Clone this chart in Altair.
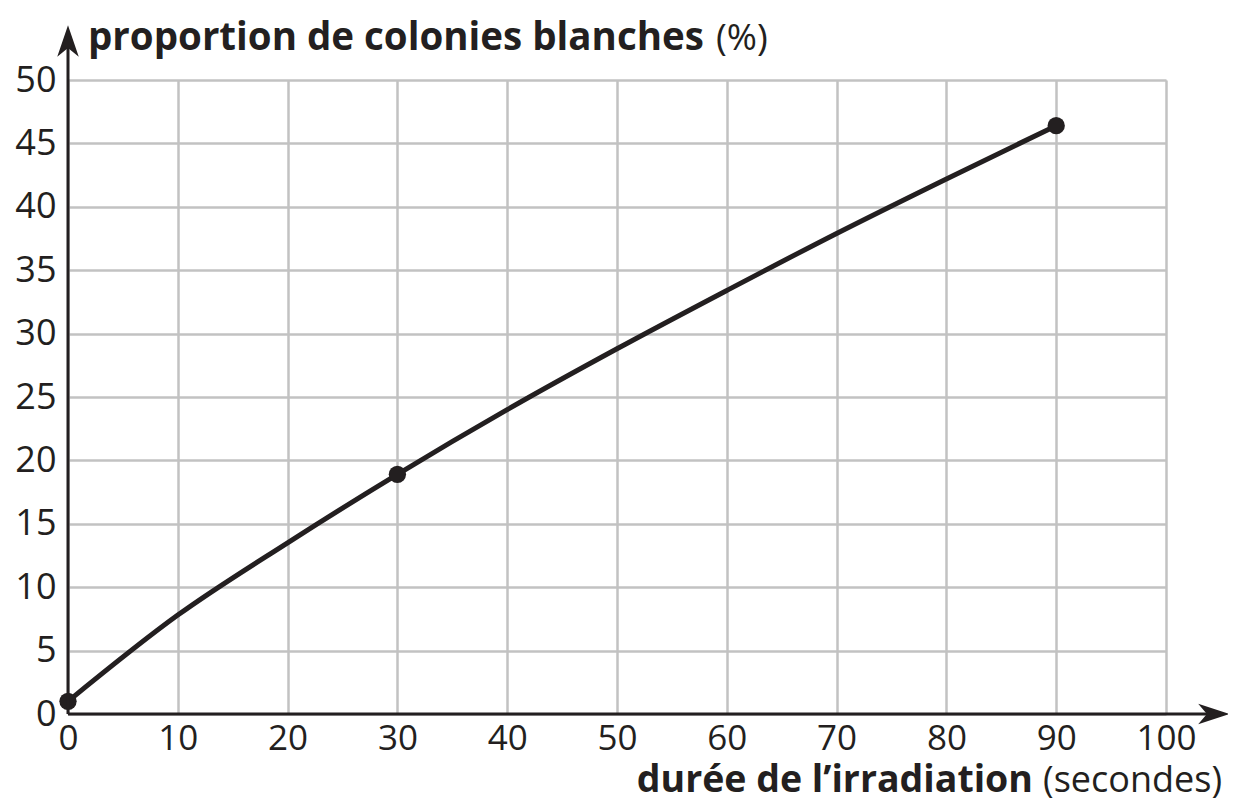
import altair as alt
import pandas as pd

# data
duree = [0, 10, 20, 30, 40, 50, 60, 70, 80, 90]
proportion = [1.0, 7.8, 13.5, 18.9, 24.0, 28.8, 33.4, 37.9, 42.2, 46.4]
mesure_duree = [0, 30, 90]
mesure_prop = [1.0, 18.9, 46.4]
x_ticks = [0, 10, 20, 30, 40, 50, 60, 70, 80, 90, 100]
y_ticks = [0, 5, 10, 15, 20, 25, 30, 35, 40, 45, 50]

INK = "#231f20"
FONT = "Open Sans"
W, H = 1098, 634

curve = pd.DataFrame({"x": duree, "y": proportion})
pts = pd.DataFrame({"x": mesure_duree, "y": mesure_prop})

xs = alt.Scale(domain=[0, 100], nice=False, zero=False)
ys = alt.Scale(domain=[0, 50], nice=False, zero=False)

xaxis = alt.Axis(values=x_ticks, grid=True, gridColor="#c2c2c2", gridWidth=2.5,
                 domain=False, ticks=False, labelFont=FONT, labelFontSize=35,
                 labelColor=INK, labelPadding=7, title=None, labelFlush=False)
yaxis = alt.Axis(values=y_ticks, grid=True, gridColor="#c2c2c2", gridWidth=2.5,
                 domain=False, ticks=False, labelFont=FONT, labelFontSize=36,
                 labelColor=INK, labelPadding=12, title=None, labelFlush=False)

line = alt.Chart(curve).mark_line(color=INK, strokeWidth=5, interpolate="monotone").encode(
    x=alt.X("x:Q", scale=xs, axis=xaxis),
    y=alt.Y("y:Q", scale=ys, axis=yaxis),
)
dots = alt.Chart(pts).mark_point(filled=True, color=INK, size=300, opacity=1).encode(
    x=alt.X("x:Q", scale=xs), y=alt.Y("y:Q", scale=ys)
)

one = pd.DataFrame({"a": [0]})
xrule = alt.Chart(one).mark_rule(color=INK, strokeWidth=3).encode(
    x=alt.value(0), x2=alt.value(1150), y=alt.value(H))
yrule = alt.Chart(one).mark_rule(color=INK, strokeWidth=3).encode(
    x=alt.value(0), y=alt.value(H), y2=alt.value(-45))
xarrow = alt.Chart(one).mark_point(
    shape="M1,0 L-1,-0.65 L-0.45,0 L-1,0.65 Z", filled=True, color=INK, opacity=1, size=1000
).encode(x=alt.value(1146), y=alt.value(H))
yarrow = alt.Chart(one).mark_point(
    shape="M0,-1 L-0.68,1 L0,0.45 L0.68,1 Z", filled=True, color=INK, opacity=1, size=1000
).encode(x=alt.value(0), y=alt.value(-39))

def txt(s, x, y, weight, align, size):
    return alt.Chart(one).mark_text(text=s, font=FONT, fontSize=size, fontWeight=weight,
                                    color=INK, align=align, baseline="alphabetic").encode(
        x=alt.value(x), y=alt.value(y))

ytitle_b = txt("proportion de colonies blanches", 20, -30, "bold", "left", 38.5)
ytitle_r = txt("(%)", 648, -30, "normal", "left", 36.5)
xtitle_b = txt("durée de l’irradiation", 965, H + 78, "bold", "right", 37.5)
xtitle_r = txt("(secondes)", 1154, H + 78, "normal", "right", 36)

chart = alt.layer(line, dots, xrule, yrule, xarrow, yarrow,
                  ytitle_b, ytitle_r, xtitle_b, xtitle_r).properties(
    width=W, height=H,
    autosize=alt.AutoSizeParams(type="none"),
    padding={"left": 60, "top": 72, "right": 62, "bottom": 89},
).configure_view(stroke=None).configure(background="white")

chart.save("out.html", embed_options={"renderer": "svg", "actions": False})
